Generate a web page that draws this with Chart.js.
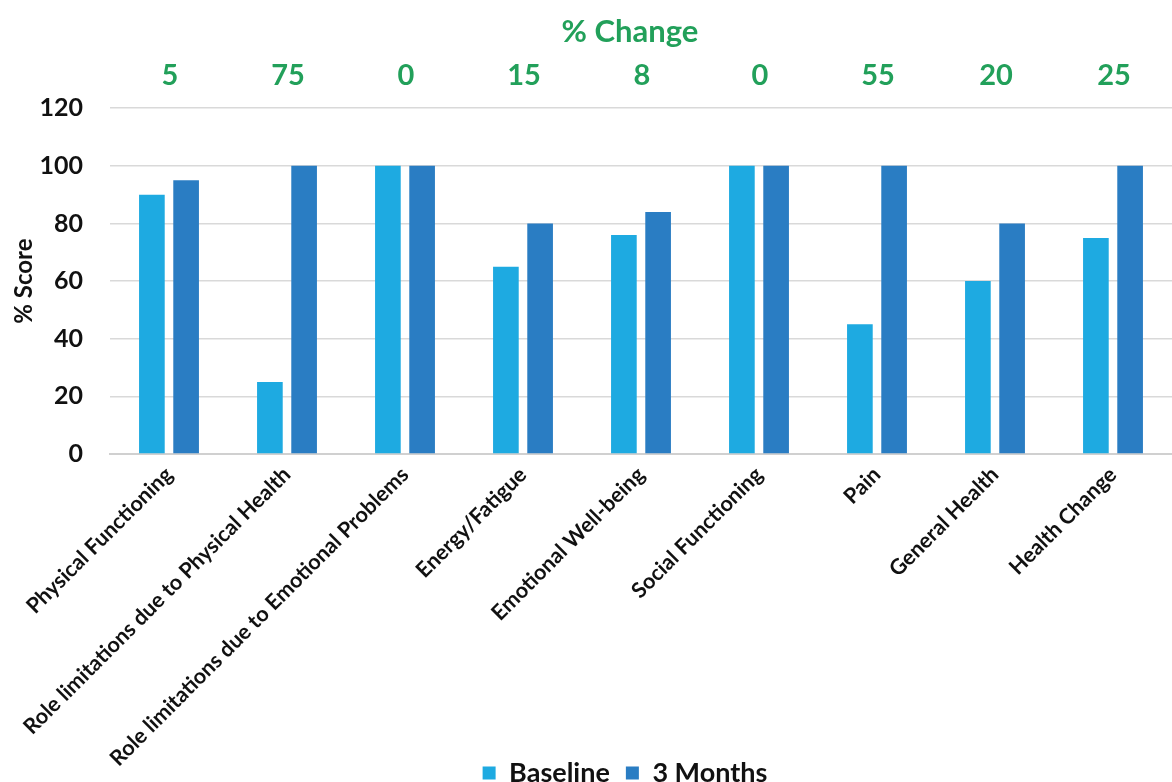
<!DOCTYPE html>
<html>
<head>
<meta charset="utf-8">
<script src="https://cdn.jsdelivr.net/npm/chart.js@4"></script>
<style>
  html, body { margin: 0; padding: 0; background: #ffffff; }
  #wrap { width: 1172px; height: 782px; }
</style>
</head>
<body>
<div id="wrap"><canvas id="scoreChart" width="1172" height="782"></canvas></div>
<script>
// SF-36 domains
const domains = [
    'Physical Functioning',
    'Role limitations due to Physical Health',
    'Role limitations due to Emotional Problems',
    'Energy/Fatigue',
    'Emotional Well-being',
    'Social Functioning',
    'Pain',
    'General Health',
    'Health Change'
];
const baseline = [90, 25, 100, 65, 76, 100, 45, 60, 75];
const threeMonths = [95, 100, 100, 80, 84, 100, 100, 80, 100];
const pctChange = [5, 75, 0, 15, 8, 0, 55, 20, 25];
const yTicks = [0, 20, 40, 60, 80, 100, 120];

const GREEN = '#22a05a';
const FONT = 'Lato, "Open Sans", sans-serif';
const LEGEND_H = 59;

// Draws the row of % change numbers above each category
const changeRow = {
    id: 'changeRow',
    afterDraw(chart) {
        const ctx = chart.ctx;
        const x = chart.scales.x;
        const top = chart.chartArea.top;
        ctx.save();
        ctx.fillStyle = GREEN;
        ctx.font = 'bold 29px ' + FONT;
        ctx.textAlign = 'center';
        ctx.textBaseline = 'middle';
        pctChange.forEach((v, i) => {
            ctx.fillText(String(v), x.getPixelForValue(i) + 1, top - 33);
        });
        ctx.restore();
    }
};

// Centre the title and legend on the plot area instead of the canvas.
// The legend is laid out below the canvas (negative bottom padding) so the
// long axis labels keep their room, then pulled back up next to them.
const recentre = {
    id: 'recentre',
    afterLayout(chart) {
        const area = chart.chartArea;
        const mid = (area.left + Math.min(area.right, chart.width)) / 2;
        const moveX = (box, centre) => {
            const d = centre - (box.left + box.right) / 2;
            box.left += d;
            box.right += d;
        };
        if (chart.titleBlock) moveX(chart.titleBlock, mid - 11);
        const lg = chart.legend;
        if (lg) {
            moveX(lg, mid - 16);
            const h = lg.bottom - lg.top;
            lg.top = 770 - h / 2;
            lg.bottom = lg.top + h;
        }
    }
};

const ctx = document.getElementById('scoreChart').getContext('2d');
new Chart(ctx, {
    type: 'bar',
    data: {
        labels: domains,
        datasets: [
            {
                label: 'Baseline',
                data: baseline,
                backgroundColor: '#1eaae1',
                categoryPercentage: 0.58,
                barPercentage: 0.75
            },
            {
                label: '3 Months',
                data: threeMonths,
                backgroundColor: '#2a7dc3',
                categoryPercentage: 0.58,
                barPercentage: 0.75
            }
        ]
    },
    options: {
        responsive: false,
        animation: false,
        // plot runs slightly past the right edge of the canvas
        layout: { padding: { top: 0, right: -11, left: 10, bottom: -LEGEND_H } },
        plugins: {
            title: {
                display: true,
                text: '% Change',
                color: GREEN,
                font: { family: FONT, size: 31, weight: 'bold', lineHeight: 1.2 },
                padding: { top: 13, bottom: 58 }
            },
            legend: {
                position: 'bottom',
                labels: {
                    color: '#111111',
                    boxWidth: 13,
                    boxHeight: 13,
                    padding: 16,
                    font: { family: FONT, size: 27, weight: 'bold' }
                }
            },
            tooltip: { enabled: false }
        },
        scales: {
            x: {
                afterFit(scale) {
                    scale.height = 334;
                },
                grid: { display: false },
                border: { color: '#d0d0d0', width: 2 },
                ticks: {
                    color: '#111111',
                    minRotation: 45,
                    maxRotation: 45,
                    autoSkip: false,
                    padding: 0,
                    font: { family: FONT, size: 21.5, weight: 'bold' }
                }
            },
            y: {
                min: 0,
                max: 120,
                afterBuildTicks(scale) {
                    scale.ticks = yTicks.map(v => ({ value: v }));
                },
                afterFit(scale) {
                    scale.width = 100;
                },
                grid: { color: '#d9d9d9', lineWidth: 1.5, drawTicks: false },
                border: { display: false },
                ticks: {
                    color: '#111111',
                    padding: 27,
                    font: { family: FONT, size: 25, weight: 'bold' }
                },
                title: {
                    display: true,
                    text: '% Score',
                    color: '#111111',
                    padding: { top: 0, bottom: 4 },
                    font: { family: FONT, size: 24, weight: 'bold' }
                }
            }
        }
    },
    plugins: [changeRow, recentre]
});
</script>
</body>
</html>
